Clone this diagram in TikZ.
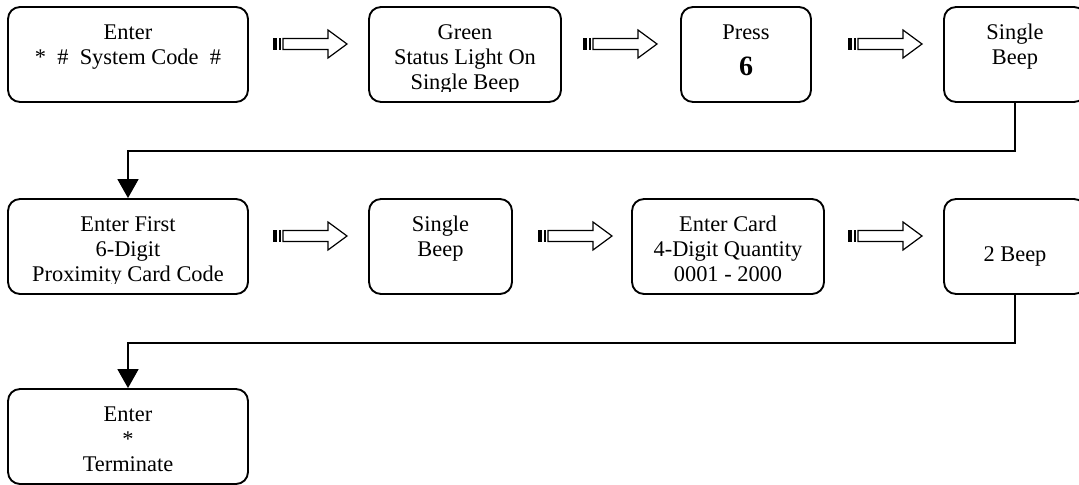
\documentclass[tikz,border=0pt]{standalone}
\usepackage{fontspec}
\setmainfont{Liberation Serif}
\usetikzlibrary{arrows.meta}
\newcommand\diagfont{\fontsize{16.8pt}{18.75pt}\selectfont}
\tikzset{
  box/.style={draw, line width=1.4pt, rounded corners=9pt, minimum height=71.25pt, inner sep=0pt},
  txt/.style={align=center, inner sep=0pt, anchor=north, font=\diagfont},
  conn/.style={line width=1.25pt, -{Triangle[width=15.75pt,length=14.25pt]}},
  blockarrow/.pic={
    \fill (0,-5.6) rectangle (4.3,5.6);
    \fill (5.7,-5.6) rectangle (7.7,5.6);
    \draw[line width=0.9pt, line join=miter] (10,-5.5) -- (55,-5.5) -- (55,-14) -- (74,0) -- (55,14) -- (55,5.5) -- (10,5.5) -- cycle;
  }
}
\begin{document}
\begin{tikzpicture}[x=0.75pt,y=-0.75pt]
\clip (0,0) rectangle (1079,485);
% row 1
\node[box, minimum width=180pt]   (b1) at (128,54.5) {};
\node[box, minimum width=144pt]   (b2) at (465,54.5) {};
\node[box, minimum width=97.5pt]  (b3) at (746,54.5) {};
\node[box, minimum width=106.5pt] (b4) at (1015,54.5) {};
% row 2
\node[box, minimum width=180pt]   (b5) at (128,246.5) {};
\node[box, minimum width=107.25pt](b6) at (440.5,246.5) {};
\node[box, minimum width=144pt]   (b7) at (728,246.5) {};
\node[box, minimum width=106.5pt] (b8) at (1015,246.5) {};
% row 3
\node[box, minimum width=180pt]   (b9) at (128,436.5) {};
% texts
\node[txt] (t1) at ([yshift=-13.5pt]b1.north) {Enter\\*\ \ \#\ \ System Code\ \ \#};
\begin{scope}
  \clip (369,0) rectangle (561,92);
  \node[txt] (t2) at ([yshift=-13.5pt]b2.north) {Green\\Status Light On\\Single Beep};
\end{scope}
\node[txt] (t3) at ([yshift=-13.5pt]b3.north) {Press\\[9pt]{\fontsize{21pt}{18.75pt}\selectfont\bfseries 6}};
\node[txt] (t4) at ([yshift=-13.5pt]b4.north) {Single\\Beep};
\begin{scope}
  \clip (0,190) rectangle (260,283);
  \node[txt] (t5) at ([yshift=-13.5pt]b5.north) {Enter First\\6-Digit\\Proximity Card Code};
\end{scope}
\node[txt] (t6) at ([yshift=-13.5pt]b6.north) {Single\\Beep};
\node[txt] (t7) at ([yshift=-13.5pt]b7.north) {Enter Card\\4-Digit Quantity\\0001 - 2000};
\node[txt] (t8) at ([yshift=-36pt]b8.north) {2 Beep};
\node[txt] (t9) at ([yshift=-14pt]b9.north) {Enter\\*\\Terminate};
% block arrows
\pic (a1) at (273,44) {blockarrow};
\pic (a2) at (583,44) {blockarrow};
\pic (a3) at (848,44) {blockarrow};
\pic (a4) at (273,236) {blockarrow};
\pic (a5) at (538,236) {blockarrow};
\pic (a6) at (848,236) {blockarrow};
% connectors
\coordinate (k1) at (128,151);
\coordinate (k2) at (128,343);
\draw[conn] (b4.south) |- (k1) -- (b5.north);
\draw[conn] (b8.south) |- (k2) -- (b9.north);
\end{tikzpicture}
\end{document}
